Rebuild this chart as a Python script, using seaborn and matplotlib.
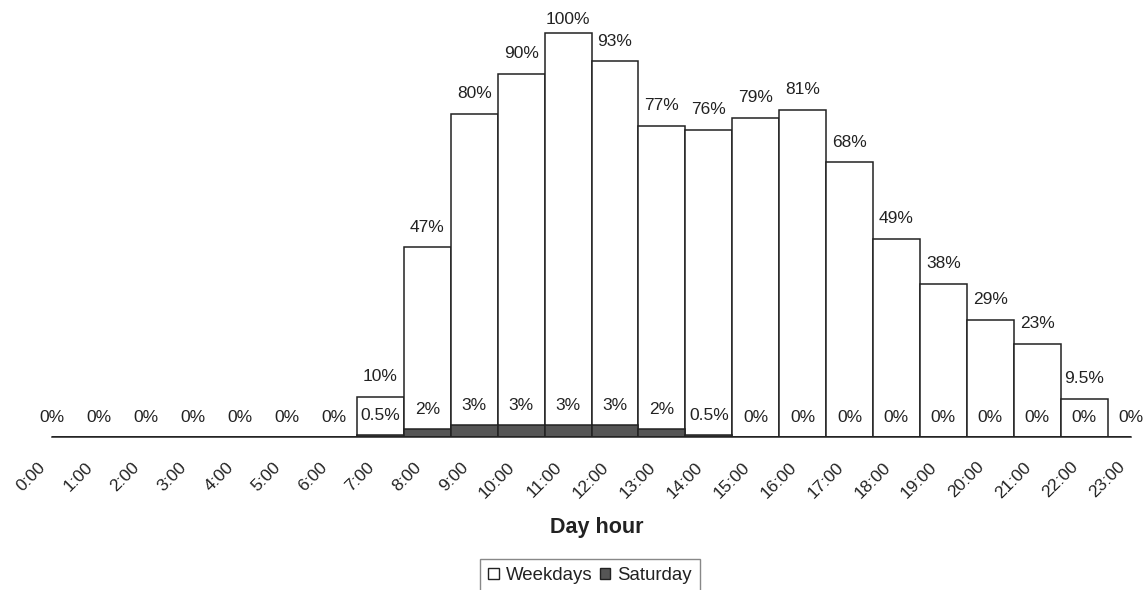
import numpy as np
import pandas as pd
import matplotlib
matplotlib.use('Agg')
import matplotlib.pyplot as plt
import matplotlib.transforms as mtransforms
import seaborn as sns
from matplotlib.patches import Patch

# Data (share of peak occupancy, %)
hours = [f'{h}:00' for h in range(24)]
weekdays = [0, 0, 0, 0, 0, 0, 0, 10, 47, 80, 90, 100, 93, 77, 76, 79, 81, 68, 49, 38, 29, 23, 9.5, 0]
saturday = [0, 0, 0, 0, 0, 0, 0, 0.5, 2, 3, 3, 3, 3, 2, 0.5, 0, 0, 0, 0, 0, 0, 0, 0, 0]

sns.set_style('white')
plt.rcParams['font.family'] = ['Liberation Sans', 'DejaVu Sans']
text_col = '#222222'
fs = 12.5
ymax = 105

fig = plt.figure(figsize=(11.47, 5.90), dpi=100)
ax = fig.add_axes([52 / 1147, 153 / 590, (1131 - 52) / 1147, 424 / 590])

df = pd.DataFrame({'hour': hours, 'Weekdays': weekdays, 'Saturday': saturday})

sns.barplot(data=df, x='hour', y='Weekdays', order=hours, color='white',
            edgecolor='#222222', linewidth=1.1, width=1.0, saturation=1, ax=ax)
sns.barplot(data=df, x='hour', y='Saturday', order=hours, color='#555555',
            edgecolor='#222222', linewidth=1.1, width=1.0, saturation=1, ax=ax)

# value labels (one label where both series sit at zero); labels kept inside the plot area
for i, (w, s) in enumerate(zip(weekdays, saturday)):
    if w != s:
        ax.text(i, min(w + 5, ymax - 1.5), f'{w:g}%', ha='center', va='center',
                fontsize=fs, color=text_col)
    ax.text(i, s + 4.8, f'{s:g}%', ha='center', va='center', fontsize=fs, color=text_col)

ax.set_xlim(0, 23)
ax.set_ylim(0, ymax)
ax.set_yticks([])
ax.set_ylabel('')
ax.set_xlabel('')
for side in ['left', 'right', 'top']:
    ax.spines[side].set_visible(False)
ax.spines['bottom'].set_color('#222222')
ax.spines['bottom'].set_linewidth(1.1)

ax.set_xticks(range(24))
ax.set_xticklabels(hours, rotation=45, ha='right', va='top', rotation_mode='anchor',
                   fontsize=fs, color=text_col)
ax.tick_params(axis='x', direction='out', length=4, width=1.1, color='#222222', pad=7)
shift = mtransforms.ScaledTranslation(-14 / 100, -7 / 100, fig.dpi_scale_trans)
for lab in ax.get_xticklabels():
    lab.set_transform(lab.get_transform() + shift)

fig.text(597 / 1147, 1 - 527 / 590, 'Day hour', ha='center', va='center',
         fontsize=15.5, fontweight='bold', color=text_col)

handles = [Patch(facecolor='white', edgecolor='#222222', linewidth=1),
           Patch(facecolor='#555555', edgecolor='#222222', linewidth=1)]
leg = fig.legend(handles, ['Weekdays', 'Saturday'], loc='upper center',
                 bbox_to_anchor=(590 / 1147, 1 - 559 / 590), ncol=2, fontsize=13.4,
                 frameon=True, fancybox=False, edgecolor='#888888', framealpha=1,
                 handlelength=0.55, handleheight=0.55, handletextpad=0.38,
                 columnspacing=0.4, borderpad=0.45, borderaxespad=0)
leg.get_frame().set_linewidth(1)
for t in leg.get_texts():
    t.set_color(text_col)

fig.savefig('out.png', dpi=100)
